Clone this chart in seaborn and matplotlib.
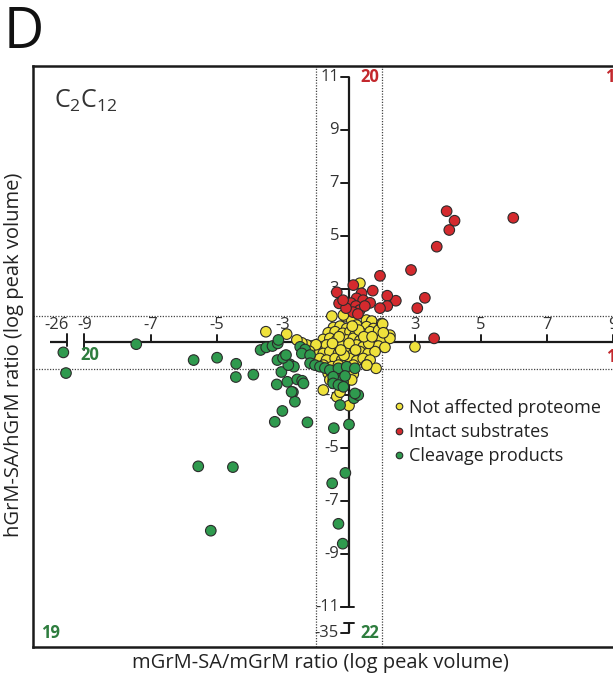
import matplotlib
matplotlib.use("Agg")
import matplotlib.pyplot as plt
import seaborn as sns
import pandas as pd

# ---------------- data (display units; axis ticks are at odd labels) ----------------
not_affected_x = [-0.12, 0.08, 0.53, 0.69, 0.99, -0.47, -0.27, -0.07, 0.23, 0.53, 0.74,
                  -0.63, -0.42, -0.19, 0.03, 0.18, 0.38, 0.64, 0.84, 1.04, 1.24,
                  -0.78, -0.58, -0.37, -0.07, 0.13, 0.33, 0.53, 0.79, 0.99, 1.24,
                  -0.88, -0.68, -0.42, -0.22, 0.03, 0.23, 0.43, 0.69, 0.89, 1.09,
                  -0.98, -0.78, -0.58, -0.32, -0.12, 0.13, 0.33, 0.58, 0.79,
                  -0.88, -0.68, -0.42, -0.22, 0.03, 0.23, 0.43, 0.64,
                  -0.78, -0.52, -0.32, -0.07, 0.13, 0.53, 0.82,
                  -0.63, -0.37, -0.12, 0.13, -0.58, 0.08,
                  -0.30, 0.00, 0.30, 0.60, -0.50, 0.45, -0.15, 0.10, 0.90, 0.20, -0.25, 0.70,
                  -1.13, -1.28, -1.43, -1.58, -1.89, -2.52, -1.00, -1.20,
                  0.33, -0.17, -0.52, 1.02, 1.04, 2.00, 0.54, -0.78, 0.00, -0.37, -0.27]
not_affected_y = [0.96, 0.83, 0.83, 0.79, 0.70, 0.55, 0.60, 0.51, 0.64, 0.58, 0.51,
                  0.35, 0.39, 0.33, 0.39, 0.26, 0.33, 0.39, 0.26, 0.35, 0.26,
                  0.10, 0.14, 0.08, 0.08, 0.14, 0.05, 0.10, 0.01, 0.14, 0.14,
                  -0.18, -0.11, -0.18, -0.15, -0.20, -0.11, -0.18, -0.24, -0.15, -0.20,
                  -0.36, -0.43, -0.36, -0.43, -0.36, -0.45, -0.36, -0.43, -0.36,
                  -0.62, -0.68, -0.62, -0.68, -0.62, -0.71, -0.62, -0.68,
                  -0.87, -0.93, -0.87, -0.96, -0.87, -0.87, -0.99,
                  -1.18, -1.12, -1.18, -1.21, -1.43, -1.43,
                  0.20, -0.05, 0.45, -0.05, -0.05, 0.20, -0.50, 0.60, 0.45, -0.30, -0.30, 0.20,
                  -0.15, -0.11, -0.03, 0.08, 0.30, 0.39, -0.10, -0.35,
                  2.22, 1.02, 0.98, 0.68, 0.35, -0.18, -0.87, -1.81, -2.40, -2.06, -1.89]

intact_x = [2.96, 3.20, 3.04, 4.98, 2.66, 1.88, 0.94, 2.30, 2.07, 1.42, 1.16, 1.16, 0.94,
            0.72, 0.13, -0.37, -0.30, 2.58, 0.38, 0.23, 0.43, 0.64, 0.06, 0.21, 0.33,
            0.12, 0.27, -0.09, 0.48, -0.18]
intact_y = [4.94, 4.58, 4.23, 4.69, 3.60, 2.72, 2.50, 1.67, 1.28, 1.56, 1.75, 1.36, 1.28,
            1.94, 2.15, 1.88, 1.46, 0.14, 1.84, 1.65, 1.58, 1.48, 1.47, 1.36, 1.21,
            1.13, 1.06, 1.28, 1.36, 1.58]

cleavage_x = [-8.66, -8.58, -6.45, -4.71, -4.00, -3.42, -3.43, -2.90, -2.68, -2.51, -2.32,
              -2.16, -2.14, -2.17, -1.96, -1.79, -1.67, -2.05, -2.19, -1.87, -1.57, -1.42,
              -1.38, -1.70, -1.64, -2.02, -2.25, -1.26, -4.57, -3.52, -4.19, -0.46, 0.00,
              -0.11, -0.51, -0.32, -0.19, -0.27, 0.15, 0.28, -0.48, -0.18, -0.36,
              -1.48, -1.33, -1.43, -1.18, -1.18, -1.03, -0.88, -0.73, -0.58, -0.32, -0.07,
              0.18, -0.48, -0.12, -0.48, -0.32, -0.17, 0.18, -1.84, -1.74, -2.00, -1.91]
cleavage_y = [-0.39, -1.17, -0.08, -0.68, -0.59, -0.82, -1.32, -1.23, -0.30, -0.20, -0.15,
              -0.05, 0.08, -0.68, -0.53, -0.84, -0.93, -1.13, -1.60, -1.50, -1.41, -1.46,
              -1.56, -1.89, -2.25, -2.60, -3.01, -3.03, -4.69, -4.72, -7.12, -3.25, -3.11,
              -4.94, -5.33, -6.86, -7.61, -2.38, -2.12, -2.00, -1.47, -1.51, -1.43,
              -0.18, -0.28, -0.43, -0.49, -0.80, -0.87, -0.93, -0.98, -1.06, -0.99, -0.93,
              -0.99, -1.31, -1.28, -1.56, -1.62, -1.69, -1.94, -0.87, -1.88, -0.60, -0.49]

categories = ["Not affected proteome", "Intact substrates", "Cleavage products"]
colors = ["#EFE23C", "#D42A2E", "#2F9A4E"]

x_tick_pos = [-8, -6, -4, -2, 2, 4, 6, 8]
x_tick_lab = ["-9", "-7", "-5", "-3", "3", "5", "7", "9"]
y_tick_pos = [10, 8, 6, 4, 2, -2, -4, -6, -8, -10]
y_tick_lab = ["11", "9", "7", "5", "3", "-3", "-5", "-7", "-9", "-11"]

# ---------------- figure ----------------
sns.set_theme(style="white")
plt.rcParams["font.family"] = ["Open Sans", "DejaVu Sans"]

W, H = 613, 678
fig = plt.figure(figsize=(W / 100, H / 100), dpi=100)
ax = fig.add_axes([33 / W, 31 / H, 632 / W, 581 / H])
ax.set_xlim(-9.58, 9.58)
ax.set_ylim(-11.51, 10.42)

df = pd.concat([
    pd.DataFrame({"x": not_affected_x, "y": not_affected_y, "group": categories[0]}),
    pd.DataFrame({"x": cleavage_x, "y": cleavage_y, "group": categories[2]}),
    pd.DataFrame({"x": intact_x, "y": intact_y, "group": categories[1]}),
], ignore_index=True)

ink = "#1a1a1a"
# dotted threshold lines
for v in (-1, 1):
    ax.axvline(v, color="#444444", lw=0.9, ls=(0, (1, 1.2)), zorder=1)
    ax.axhline(v, color="#444444", lw=0.9, ls=(0, (1, 1.2)), zorder=1)

# main axes lines
ax.plot([-8.03, 9.6], [0, 0], color=ink, lw=1.6, zorder=2, solid_capstyle="butt")
ax.plot([0, 0], [-10, 10], color=ink, lw=1.6, zorder=2, solid_capstyle="butt")
# x break segment
ax.plot([-9.06, -8.55], [0, 0], color=ink, lw=1.6, zorder=2, solid_capstyle="butt")
ax.plot([-8.55, -8.55], [-0.15, 0.3], color=ink, lw=1.4, zorder=2)
ax.plot([-8.03, -8.03], [-0.3, 0.3], color=ink, lw=1.4, zorder=2)
# y break segment
ax.plot([0, 0], [-10.6, -10.98], color=ink, lw=1.6, zorder=2, solid_capstyle="butt")
ax.plot([-0.15, 0.15], [-10.6, -10.6], color=ink, lw=1.4, zorder=2)
ax.plot([-0.25, 0.15], [-10, -10], color=ink, lw=1.4, zorder=2)
ax.plot([-0.25, 0], [-10.98, -10.98], color=ink, lw=1.4, zorder=2)

# ticks
for p, lab in zip(x_tick_pos, x_tick_lab):
    if p != -8:
        ax.plot([p, p], [0, 0.25], color=ink, lw=1.4, zorder=2)
    ax.text(p, 0.33, lab, ha="center", va="bottom", fontsize=12, color="#333333")
ax.text(-8.88, 0.33, "-26", ha="center", va="bottom", fontsize=12, color="#333333")
for p, lab in zip(y_tick_pos, y_tick_lab):
    ax.plot([-0.25, 0], [p, p], color=ink, lw=1.4, zorder=2)
    ax.text(-0.3, p, lab, ha="right", va="center", fontsize=12, color="#333333")
ax.text(-0.3, -10.98, "-35", ha="right", va="center", fontsize=12, color="#333333")

# scatter
sns.scatterplot(data=df, x="x", y="y", hue="group", hue_order=categories,
                palette=dict(zip(categories, colors)), s=58, edgecolor="#2b2b2b",
                linewidth=0.8, ax=ax, zorder=3, legend=True)

leg = ax.legend(loc="upper left", bbox_to_anchor=(0.56, 0.44), frameon=False,
                fontsize=13, markerscale=0.62, handlelength=0.5, handletextpad=0.3,
                labelspacing=0.35, borderaxespad=0)
for t in leg.get_texts():
    t.set_color("#222222")

# off-scale counts
red_c, green_c = "#C3282D", "#2E7D3E"
ax.text(0.35, 10.0, "20", color=red_c, fontsize=12, fontweight="bold", va="center")
ax.text(7.75, 10.0, "11", color=red_c, fontsize=12, fontweight="bold", va="center")
ax.text(7.8, -0.58, "10", color=red_c, fontsize=12, fontweight="bold", va="center")
ax.text(-8.15, -0.5, "20", color=green_c, fontsize=12, fontweight="bold", va="center")
ax.text(-9.35, -10.98, "19", color=green_c, fontsize=12, fontweight="bold", va="center")
ax.text(0.35, -10.98, "22", color=green_c, fontsize=12, fontweight="bold", va="center")

ax.text(-8.95, 9.1, r"$\mathregular{C_2C_{12}}$", fontsize=18, color="#333333", va="center")

ax.set_xticks([])
ax.set_yticks([])
ax.set_xlabel("")
ax.set_ylabel("")
for side in ("left", "top", "bottom", "right"):
    ax.spines[side].set_color(ink)
    ax.spines[side].set_linewidth(1.8)

fig.text(320 / W, 1 - 663 / H, "mGrM-SA/mGrM ratio (log peak volume)", ha="center",
         va="center", fontsize=14.5, color="#222222")
fig.text(14 / W, 1 - 355 / H, "hGrM-SA/hGrM ratio (log peak volume)", ha="center",
         va="center", rotation=90, fontsize=14.5, color="#222222")
fig.text(4 / W, 1 - 34 / H, "D", ha="left", va="center", fontsize=40, color="#111111")

fig.savefig("out.png", dpi=100)
